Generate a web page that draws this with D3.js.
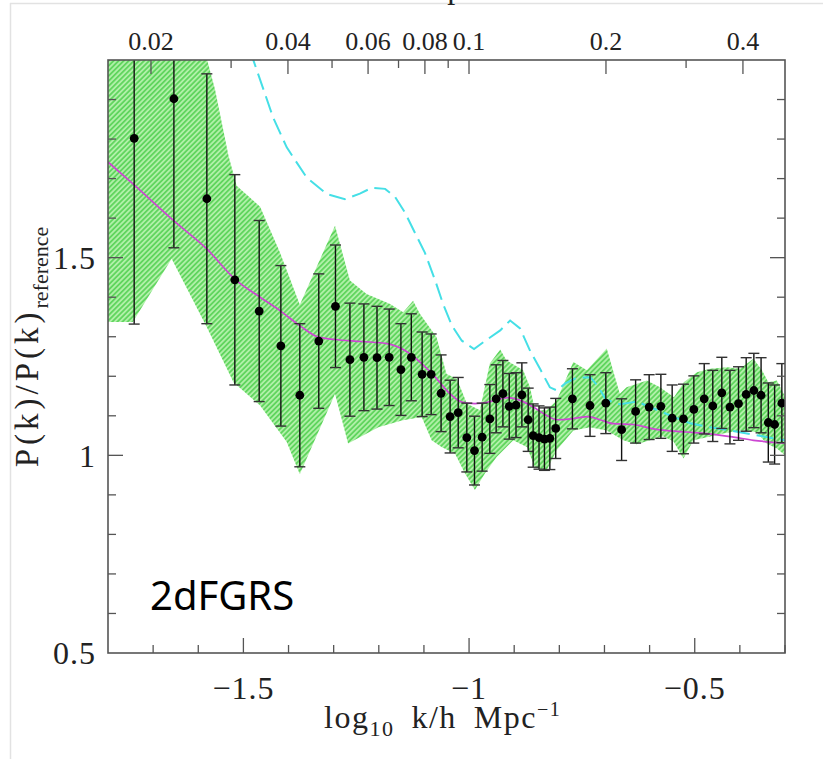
<!DOCTYPE html>
<html>
<head>
<meta charset="utf-8">
<script src="https://cdn.jsdelivr.net/npm/d3@7"></script>
<style>
  html, body { margin: 0; padding: 0; background: #fff; }
  svg { display: block; }
</style>
</head>
<body>
<svg id="chart" width="823" height="759"></svg>
<script>
// data points: log10 k, ratio, 1-sigma error
const pointK = [-1.742, -1.654, -1.581, -1.519, -1.465, -1.417, -1.375, -1.333, -1.296, -1.264,
  -1.233, -1.204, -1.177, -1.151, -1.128, -1.104, -1.084, -1.062, -1.042, -1.024,
  -1.005, -0.988, -0.971, -0.954, -0.940, -0.925, -0.911, -0.896, -0.883, -0.869,
  -0.858, -0.845, -0.833, -0.821, -0.808, -0.771, -0.732, -0.697, -0.662, -0.631,
  -0.601, -0.575, -0.550, -0.525, -0.502, -0.479, -0.460, -0.440, -0.422, -0.403,
  -0.386, -0.369, -0.353, -0.337, -0.323, -0.307];
const pointV = [1.802, 1.902, 1.649, 1.444, 1.365, 1.277, 1.152, 1.289, 1.377, 1.242,
  1.248, 1.247, 1.248, 1.217, 1.248, 1.205, 1.205, 1.157, 1.098, 1.108,
  1.045, 1.012, 1.046, 1.092, 1.143, 1.156, 1.124, 1.127, 1.153, 1.090,
  1.050, 1.045, 1.041, 1.043, 1.068, 1.143, 1.126, 1.132, 1.065, 1.111,
  1.122, 1.124, 1.094, 1.092, 1.116, 1.143, 1.125, 1.158, 1.122, 1.131,
  1.154, 1.164, 1.152, 1.083, 1.078, 1.132];
const pointErr = [0.47, 0.377, 0.316, 0.266, 0.229, 0.203, 0.181, 0.17, 0.155, 0.143,
  0.135, 0.13, 0.122, 0.116, 0.11, 0.107, 0.102, 0.097, 0.092, 0.089,
  0.087, 0.087, 0.086, 0.087, 0.086, 0.084, 0.083, 0.082, 0.081, 0.080,
  0.080, 0.080, 0.079, 0.079, 0.076, 0.076, 0.078, 0.077, 0.078, 0.080,
  0.082, 0.081, 0.084, 0.088, 0.085, 0.089, 0.090, 0.090, 0.093, 0.093,
  0.093, 0.094, 0.095, 0.100, 0.100, 0.100];

// hatched green band (upper and lower edges)
const bandUpperK = [-1.8, -1.585, -1.563, -1.533, -1.515, -1.463, -1.419, -1.375, -1.297, -1.264,
  -1.227, -1.175, -1.146, -1.124, -1.109, -1.072, -1.050, -1.027, -1.005, -0.976,
  -0.954, -0.931, -0.917, -0.880, -0.865, -0.854, -0.828, -0.806, -0.769, -0.739,
  -0.695, -0.666, -0.651, -0.606, -0.577, -0.546, -0.524, -0.495, -0.466, -0.428,
  -0.400, -0.370, -0.351, -0.337, -0.318, -0.3];
const bandUpperV = [2.1, 2.02, 1.926, 1.758, 1.682, 1.629, 1.513, 1.381, 1.581, 1.442,
  1.408, 1.383, 1.362, 1.391, 1.358, 1.299, 1.206, 1.194, 1.131, 1.114,
  1.232, 1.268, 1.240, 1.215, 1.172, 1.114, 1.114, 1.139, 1.236, 1.215,
  1.270, 1.156, 1.172, 1.189, 1.172, 1.147, 1.185, 1.210, 1.219, 1.223,
  1.219, 1.244, 1.215, 1.185, 1.189, 1.149];
const bandLowerK = [-1.8, -1.745, -1.659, -1.581, -1.522, -1.463, -1.404, -1.375, -1.297, -1.268,
  -1.201, -1.149, -1.105, -1.083, -1.061, -1.031, -1.009, -0.987, -0.965, -0.939,
  -0.902, -0.872, -0.854, -0.828, -0.806, -0.769, -0.732, -0.695, -0.658, -0.629,
  -0.599, -0.570, -0.547, -0.525, -0.503, -0.473, -0.437, -0.400, -0.363, -0.341,
  -0.318, -0.3];
const bandLowerV = [1.337, 1.337, 1.497, 1.324, 1.185, 1.126, 1.034, 0.952, 1.156, 1.030,
  1.071, 1.088, 1.097, 1.038, 1.021, 1.004, 0.954, 0.912, 0.954, 0.996,
  1.038, 1.021, 0.970, 0.962, 1.013, 1.063, 1.071, 1.063, 1.038, 1.028,
  1.038, 1.048, 1.035, 0.992, 1.038, 1.046, 1.055, 1.063, 1.059, 1.030,
  1.017, 1.000];

// magenta model curve
const modelK = [-1.8, -1.744, -1.654, -1.581, -1.519, -1.463, -1.419, -1.375, -1.334, -1.297,
  -1.238, -1.179, -1.142, -1.105, -1.075, -1.046, -1.016, -0.987, -0.957, -0.931,
  -0.914, -0.887, -0.858, -0.828, -0.806, -0.769, -0.737, -0.710, -0.680, -0.636,
  -0.592, -0.518, -0.473, -0.414, -0.370, -0.3];
const modelV = [1.742, 1.686, 1.593, 1.522, 1.446, 1.400, 1.366, 1.328, 1.299, 1.293,
  1.288, 1.282, 1.265, 1.232, 1.198, 1.160, 1.135, 1.131, 1.135, 1.143,
  1.146, 1.139, 1.122, 1.101, 1.090, 1.093, 1.098, 1.090, 1.080, 1.078,
  1.067, 1.059, 1.055, 1.046, 1.038, 1.031];

// cyan dashed curve
const cyanK = [-1.485, -1.434, -1.404, -1.360, -1.315, -1.275, -1.242, -1.215, -1.186, -1.164,
  -1.142, -1.120, -1.098, -1.075, -1.058, -1.038, -1.016, -0.989, -0.960, -0.931,
  -0.909, -0.887, -0.865, -0.841, -0.821, -0.805, -0.787, -0.761, -0.731, -0.714,
  -0.697, -0.666, -0.628, -0.586, -0.548, -0.510, -0.466, -0.422, -0.364, -0.3];
const cyanV = [2.023, 1.854, 1.779, 1.703, 1.661, 1.648, 1.662, 1.677, 1.674, 1.654,
  1.614, 1.563, 1.513, 1.442, 1.384, 1.328, 1.290, 1.269, 1.293, 1.316,
  1.341, 1.321, 1.265, 1.215, 1.172, 1.164, 1.182, 1.197, 1.197, 1.174,
  1.141, 1.129, 1.136, 1.116, 1.098, 1.081, 1.071, 1.063, 1.051, 1.038];

const yTicks = [0.5, 1, 1.5];
const xTicks = [-1.5, -1, -0.5];
const topTicks = [0.02, 0.04, 0.06, 0.08, 0.1, 0.2, 0.4];
const topMinor = [0.03, 0.05, 0.07, 0.09, 0.3];

const svg = d3.select("#chart");
const margin = { top: 60, right: 38, bottom: 106, left: 108 };
const width = +svg.attr("width") - margin.left - margin.right;
const height = +svg.attr("height") - margin.top - margin.bottom;

const xScale = d3.scaleLinear().domain([-1.8, -0.3]).range([0, width]);
const yScale = d3.scaleLinear().domain([0.5, 2.0]).range([height, 0]);
const topScale = d3.scaleLog().domain([0.01609, 0.4949]).range([0, width]);

// faint screenshot border
svg.append("line").attr("x1", 10.5).attr("x2", 10.5).attr("y1", 3).attr("y2", 759)
  .attr("stroke", "#e2e2e2").attr("stroke-width", 1.5);
svg.append("line").attr("x1", 10).attr("x2", 823).attr("y1", 3.5).attr("y2", 3.5)
  .attr("stroke", "#e2e2e2").attr("stroke-width", 1.5);

const defs = svg.append("defs");
const pat = defs.append("pattern")
  .attr("id", "hatch")
  .attr("patternUnits", "userSpaceOnUse")
  .attr("width", 3.6).attr("height", 3.6)
  .attr("patternTransform", "rotate(45)");
pat.append("rect").attr("width", 3.6).attr("height", 3.6).attr("fill", "#b0f0a8");
pat.append("line").attr("x1", 0.9).attr("x2", 0.9).attr("y1", 0).attr("y2", 3.6)
  .attr("stroke", "#46cc46").attr("stroke-width", 1.35);

defs.append("clipPath").attr("id", "plot-clip")
  .append("rect").attr("width", width).attr("height", height);

const g = svg.append("g").attr("transform", `translate(${margin.left},${margin.top})`);
const plot = g.append("g").attr("clip-path", "url(#plot-clip)");

// band
const upper = bandUpperK.map((k, i) => [k, bandUpperV[i]]);
const lower = bandLowerK.map((k, i) => [k, bandLowerV[i]]).reverse();
const line = d3.line().x(d => xScale(d[0])).y(d => yScale(d[1]));
plot.append("path")
  .attr("d", line(upper.concat(lower)) + "Z")
  .attr("fill", "url(#hatch)");

// cyan dashed
plot.append("path")
  .attr("d", line(cyanK.map((k, i) => [k, cyanV[i]])))
  .attr("fill", "none")
  .attr("stroke", "#45dfe6")
  .attr("stroke-width", 2)
  .attr("stroke-dasharray", "17,7");

// magenta model
plot.append("path")
  .attr("d", d3.line().curve(d3.curveMonotoneX).x(d => xScale(d[0])).y(d => yScale(d[1]))(modelK.map((k, i) => [k, modelV[i]])))
  .attr("fill", "none")
  .attr("stroke", "#cc46d2")
  .attr("stroke-width", 1.7);

// error bars
const pts = pointK.map((k, i) => ({ k: k, v: pointV[i], e: pointErr[i] }));
const eb = plot.selectAll(".eb").data(pts).enter().append("g").attr("class", "eb");
eb.append("line")
  .attr("x1", d => xScale(d.k)).attr("x2", d => xScale(d.k))
  .attr("y1", d => yScale(d.v - d.e)).attr("y2", d => yScale(d.v + d.e))
  .attr("stroke", "#111").attr("stroke-width", 1.4);
[-1, 1].forEach(s => {
  eb.append("line")
    .attr("x1", d => xScale(d.k) - 5.5).attr("x2", d => xScale(d.k) + 5.5)
    .attr("y1", d => yScale(d.v + s * d.e)).attr("y2", d => yScale(d.v + s * d.e))
    .attr("stroke", "#333").attr("stroke-width", 1.4);
});
plot.selectAll(".dot").data(pts).enter().append("circle")
  .attr("class", "dot")
  .attr("cx", d => xScale(d.k)).attr("cy", d => yScale(d.v))
  .attr("r", 4.4).attr("fill", "#000");

// frame
g.append("rect").attr("width", width).attr("height", height)
  .attr("fill", "none").attr("stroke", "#555").attr("stroke-width", 1.6);

// ticks
const minorY = d3.range(6, 20).map(i => i / 10);
minorY.forEach(v => {
  const major = Math.abs(v - 1) < 1e-6 || Math.abs(v - 1.5) < 1e-6;
  const len = major ? 15 : 8;
  g.append("line").attr("x1", 0).attr("x2", len).attr("y1", yScale(v)).attr("y2", yScale(v))
    .attr("stroke", "#555").attr("stroke-width", 1.3);
  g.append("line").attr("x1", width).attr("x2", width - len).attr("y1", yScale(v)).attr("y2", yScale(v))
    .attr("stroke", "#555").attr("stroke-width", 1.3);
});
const minorX = d3.range(-17, -2).map(i => i / 10);
minorX.forEach(v => {
  const major = xTicks.some(t => Math.abs(t - v) < 1e-6);
  const len = major ? 15 : 8;
  g.append("line").attr("x1", xScale(v)).attr("x2", xScale(v)).attr("y1", height).attr("y2", height - len)
    .attr("stroke", "#555").attr("stroke-width", 1.3);
});
topTicks.concat(topMinor).forEach(v => {
  const len = topTicks.includes(v) ? 14 : 8;
  g.append("line").attr("x1", topScale(v)).attr("x2", topScale(v)).attr("y1", 0).attr("y2", len)
    .attr("stroke", "#555").attr("stroke-width", 1.3);
});

// tick labels
const serif = "'Liberation Serif', 'Times New Roman', serif";
g.selectAll(".ylab").data(yTicks).enter().append("text")
  .attr("x", -12).attr("y", d => yScale(d)).attr("dy", "0.35em")
  .attr("text-anchor", "end")
  .style("font-family", serif).style("font-size", "32px").style("letter-spacing", "1px")
  .attr("fill", "#222")
  .text(d => d);
g.selectAll(".xlab").data(xTicks).enter().append("text")
  .attr("x", d => xScale(d)).attr("y", height + 46)
  .attr("text-anchor", "middle")
  .style("font-family", serif).style("font-size", "32px").style("letter-spacing", "1px")
  .attr("fill", "#222")
  .text(d => "\u2212" + Math.abs(d));
g.selectAll(".toplab").data(topTicks).enter().append("text")
  .attr("x", d => topScale(d)).attr("y", -10)
  .attr("text-anchor", "middle")
  .style("font-family", serif).style("font-size", "26px")
  .attr("fill", "#222")
  .text(d => d);

// axis titles
const xt = svg.append("text").attr("x", 324).attr("y", 728)
  .style("font-family", serif).style("font-size", "32px").style("letter-spacing", "1.5px")
  .attr("fill", "#222");
xt.append("tspan").text("log");
xt.append("tspan").attr("dy", 8).style("font-size", "22px").text("10");
xt.append("tspan").attr("dx", 17).attr("dy", -8).text("k/h");
xt.append("tspan").attr("dx", 17).text("Mpc");
xt.append("tspan").attr("dy", -12).style("font-size", "20px").text("\u22121");

// top title, cut off by the page edge in the original screenshot
const tt = svg.append("text").attr("x", 355).attr("y", -2)
  .style("font-family", serif).style("font-size", "32px").style("letter-spacing", "1.5px")
  .attr("fill", "#222");
tt.append("tspan").text("k/h");
tt.append("tspan").attr("dx", 17).text("Mpc");

const yt = svg.append("text")
  .attr("transform", "translate(38,347) rotate(-90)")
  .attr("text-anchor", "middle")
  .style("font-family", serif).style("font-size", "33px").style("letter-spacing", "4px")
  .attr("fill", "#222");
yt.append("tspan").text("P(k)/P(k)");
yt.append("tspan").attr("dy", 10).style("font-size", "22px").style("letter-spacing", "0px").text("reference");

// survey label
svg.append("text").attr("x", 150).attr("y", 610)
  .style("font-family", "'Noto Sans', 'DejaVu Sans', sans-serif").style("font-size", "40px")
  .attr("fill", "#000")
  .text("2dFGRS");
</script>
</body>
</html>
